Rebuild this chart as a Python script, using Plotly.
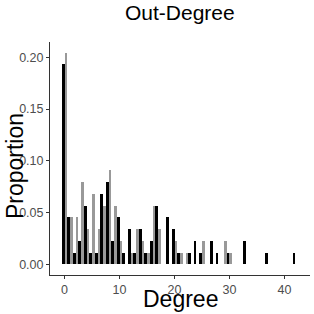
import plotly.graph_objects as go

N = 88
degrees = list(range(0, 43))
black_counts = {0: 17, 1: 4, 2: 1, 3: 2, 4: 5, 5: 1, 6: 1, 7: 6, 8: 7, 9: 2, 10: 4,
                11: 1, 12: 3, 13: 1, 14: 3, 15: 1, 16: 2, 17: 5, 19: 4, 20: 3, 21: 1,
                23: 1, 24: 2, 25: 1, 27: 2, 28: 1, 30: 1, 33: 2, 37: 1, 42: 1}
gray_counts = {0: 18, 1: 4, 2: 4, 3: 7, 4: 3, 5: 6, 6: 3, 7: 5, 8: 8, 9: 5, 10: 2,
               12: 1, 13: 3, 14: 2, 15: 1, 16: 5, 17: 3, 20: 2, 21: 1, 22: 1, 25: 2,
               29: 2, 30: 1}
black_vals = [black_counts.get(d, 0) / N for d in degrees]
gray_vals = [gray_counts.get(d, 0) / N for d in degrees]

xticks = [0, 10, 20, 30, 40]
yticks = [0.00, 0.05, 0.10, 0.15, 0.20]
ytick_labels = ["0.00", "0.05", "0.10", "0.15", "0.20"]

fig = go.Figure()
fig.add_trace(go.Bar(x=degrees, y=black_vals, marker=dict(color="#000000", line=dict(width=0)), name="A"))
fig.add_trace(go.Bar(x=degrees, y=gray_vals, marker=dict(color="#999999", line=dict(width=0)), name="B"))

font = "Liberation Sans, Arial, sans-serif"
fig.update_layout(
    width=314, height=314,
    barmode="group", bargap=0.0, bargroupgap=0.0,
    showlegend=False,
    plot_bgcolor="white", paper_bgcolor="white",
    margin=dict(l=50, r=4, t=42, b=39, autoexpand=False),
    font=dict(family=font),
    xaxis=dict(range=[-2.65, 44.65], tickvals=xticks, ticktext=[str(t) for t in xticks],
               showline=True, linecolor="#333333", linewidth=1, ticks="outside", ticklen=3,
               tickcolor="#333333", showgrid=False, zeroline=False, automargin=False,
               tickfont=dict(size=12.5, color="#4d4d4d", family=font)),
    yaxis=dict(range=[-0.0102, 0.2147], tickvals=yticks, ticktext=ytick_labels,
               showline=True, linecolor="#333333", linewidth=1, ticks="outside", ticklen=3,
               tickcolor="#333333", showgrid=False, zeroline=False, automargin=False,
               tickfont=dict(size=12.5, color="#4d4d4d", family=font)),
    annotations=[
        dict(text="Out-Degree", xref="paper", yref="paper", x=0.5, y=1.1245,
             xanchor="center", yanchor="middle", showarrow=False,
             font=dict(size=21, color="black", family=font)),
        dict(text="Degree", xref="paper", yref="paper", x=0.5, y=-0.103,
             xanchor="center", yanchor="middle", showarrow=False,
             font=dict(size=23, color="black", family=font)),
        dict(text="Proportion", xref="paper", yref="paper", x=-0.134, y=0.468,
             xanchor="center", yanchor="middle", showarrow=False, textangle=-90,
             font=dict(size=23, color="black", family=font)),
    ],
)
fig.write_html("out.html", config={"displayModeBar": False},
               post_script="document.body.style.margin='0';")
